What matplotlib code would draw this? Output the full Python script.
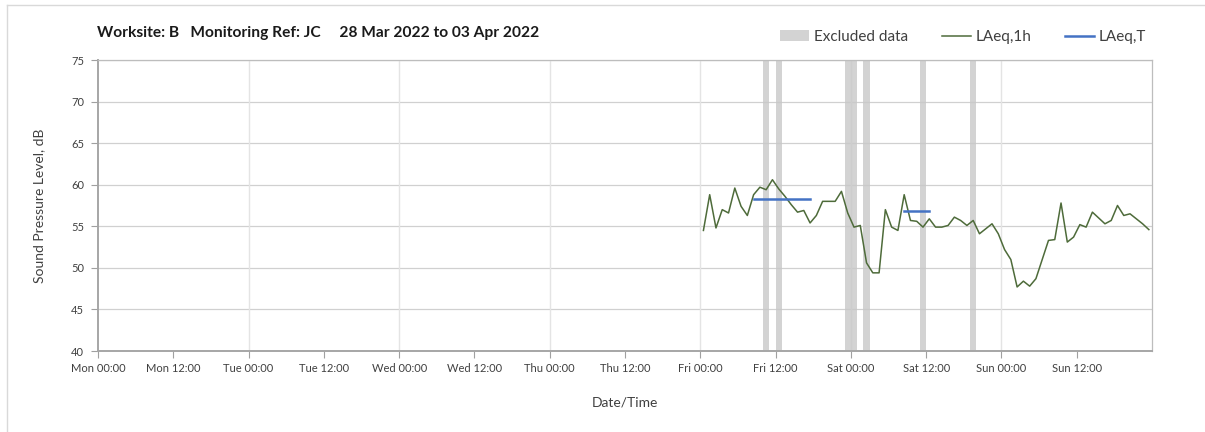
import matplotlib
matplotlib.use("Agg")
import matplotlib.pyplot as plt
from matplotlib.patches import Patch
from matplotlib.lines import Line2D

plt.rcParams['font.family'] = ['Lato', 'DejaVu Sans']

# Hours since Mon 00:00 for each hourly point (Fri 00:30 .. Sun 23:30)
hour_start = 96.5
laeq_1h = [54.5, 58.8, 54.8, 57.0, 56.6, 59.6, 57.4, 56.3, 58.8, 59.7,
           59.4, 60.6, 59.5, 58.6, 57.6, 56.7, 56.9, 55.4, 56.3, 58.0,
           58.0, 58.0, 59.2, 56.6, 54.9, 55.1, 50.6, 49.4, 49.4, 57.0,
           54.9, 54.5, 58.8, 55.7, 55.6, 54.9, 55.9, 54.9, 54.9, 55.1,
           56.1, 55.7, 55.1, 55.7, 54.1, 54.7, 55.3, 54.1, 52.2, 51.0,
           47.7, 48.4, 47.8, 48.7, 51.0, 53.3, 53.4, 57.8, 53.1, 53.7,
           55.2, 54.9, 56.7, 56.0, 55.3, 55.7, 57.5, 56.3, 56.5, 55.9,
           55.3, 54.6]
hours = [hour_start + i for i in range(len(laeq_1h))]

# LAeq,T periods: (first point index, last point index, level)
laeq_t_periods = [(8, 17, 58.3), (32, 36, 56.8)]

# Excluded periods (start hour, end hour since Mon 00:00)
excluded = [(106, 107), (108, 109), (119, 120), (120, 121), (122, 123),
            (131, 132), (139, 140)]

tick_labels = ['Mon 00:00', 'Mon 12:00', 'Tue 00:00', 'Tue 12:00', 'Wed 00:00',
               'Wed 12:00', 'Thu 00:00', 'Thu 12:00', 'Fri 00:00', 'Fri 12:00',
               'Sat 00:00', 'Sat 12:00', 'Sun 00:00', 'Sun 12:00']

W, H = 1205, 432
fig = plt.figure(figsize=(W / 100, H / 100), dpi=100)
ax = fig.add_axes([98 / W, 1 - 351 / H, (1152 - 98) / W, (351 - 60) / H])

for s, e in excluded:
    ax.axvspan(s, e, color='#c8c8c8', alpha=0.8, lw=0, zorder=1)

ax.plot(hours, laeq_1h, color='#4e6b3a', lw=1.1, zorder=3)
for i0, i1, lev in laeq_t_periods:
    ax.plot([hours[i0], hours[i1]], [lev, lev], color='#4472c4', lw=1.8, zorder=4)

ax.set_xlim(0, 168)
ax.set_ylim(40, 75)
ax.set_yticks(range(40, 76, 5))
ax.set_xticks([12 * i for i in range(len(tick_labels))])
ax.set_xticklabels(tick_labels, fontsize=8, color='#404040')
ax.tick_params(axis='y', labelsize=8, labelcolor='#404040', length=5, color='#a0a0a0', width=0.8, pad=5)
ax.tick_params(axis='x', length=5, color='#a0a0a0', width=0.8, pad=4)

for y in range(45, 76, 5):
    ax.axhline(y, color='#d0d0d0', lw=0.9, zorder=0)
for x in range(24, 168, 24):
    ax.axvline(x, color='#e4e4e4', lw=1.0, zorder=0)

for sp in ['top', 'right']:
    ax.spines[sp].set_color('#bdbdbd')
    ax.spines[sp].set_linewidth(0.9)
for sp in ['left', 'bottom']:
    ax.spines[sp].set_color('#a6a6a6')
    ax.spines[sp].set_linewidth(1.4)

ax.set_ylabel('Sound Pressure Level, dB', fontsize=10, color='#404040', labelpad=19)
ax.set_xlabel('Date/Time', fontsize=10, color='#404040', labelpad=16)

fig.text(97 / W, 1 - 33 / H,
         'Worksite: B   Monitoring Ref: JC     28 Mar 2022 to 03 Apr 2022',
         fontsize=11.2, fontweight='bold', color='#1a1a1a', va='center', ha='left')

handles = [Patch(facecolor='#d3d3d3', edgecolor='none', label='Excluded data'),
           Line2D([], [], color='#4e6b3a', lw=1.1, label='LAeq,1h'),
           Line2D([], [], color='#4472c4', lw=1.8, label='LAeq,T')]
fig.legend(handles=handles, loc='center right', bbox_to_anchor=(1152 / W, 1 - 37 / H),
           ncol=3, frameon=False, fontsize=11, handlelength=1.9, handletextpad=0.3,
           columnspacing=2.2, labelcolor='#404040', borderaxespad=0)

# chart border (left and top visible)
fig.add_artist(Line2D([7 / W, 7 / W], [0, 1 - 5 / H], transform=fig.transFigure, color='#d9d9d9', lw=1))
fig.add_artist(Line2D([7 / W, 1], [1 - 5 / H, 1 - 5 / H], transform=fig.transFigure, color='#d9d9d9', lw=1))

fig.savefig('out.png', dpi=100)
